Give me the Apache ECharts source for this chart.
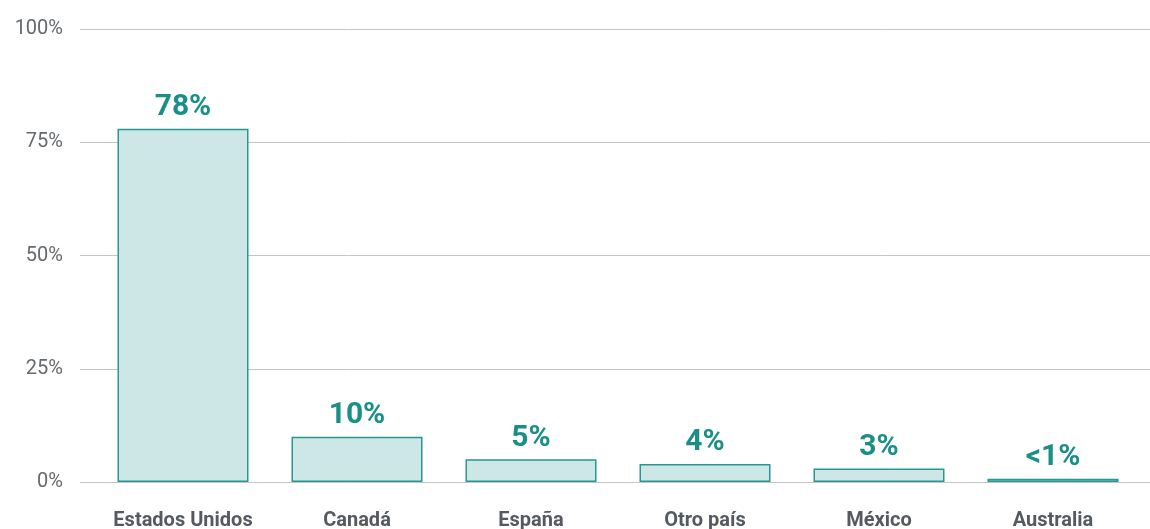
<!DOCTYPE html>
<html>
<head>
<meta charset="utf-8">
<script src="https://cdn.jsdelivr.net/npm/echarts@6/dist/echarts.min.js"></script>
<style>
  html, body { margin: 0; padding: 0; background: #ffffff; }
  #chart { width: 1150px; height: 529px; }
</style>
</head>
<body>
<div id="chart"></div>
<script>
// Country share of respondents
const categories = ['Estados Unidos', 'Canadá', 'España', 'Otro país', 'México', 'Australia'];
const values = [78, 10, 5, 4, 3, 0.7];
const valueLabels = ['78%', '10%', '5%', '4%', '3%', '<1%'];
const yTicks = [0, 25, 50, 75, 100];

const TEAL = '#1a8f88';
const FONT = 'Roboto, "Noto Sans", sans-serif';

const chart = echarts.init(document.getElementById('chart'), null, { renderer: 'canvas' });

const gridTop = 29;
const gridBottom = 47;

chart.setOption({
  animation: false,
  backgroundColor: '#ffffff',
  grid: [
    // wide grid: y axis labels and horizontal gridlines
    { left: 80, right: 0, top: gridTop, bottom: gridBottom, outerBoundsMode: 'none', containLabel: false },
    // inner grid: the bars and category labels
    { left: 96, right: 10, top: gridTop, bottom: gridBottom, outerBoundsMode: 'none', containLabel: false }
  ],
  xAxis: [
    { gridIndex: 0, type: 'category', data: categories, show: false },
    {
      gridIndex: 1,
      type: 'category',
      data: categories,
      axisLine: { show: false },
      axisTick: { show: false },
      axisLabel: {
        interval: 0,
        color: '#555a60',
        fontFamily: FONT,
        fontWeight: 'bold',
        fontSize: 20,
        margin: 29
      }
    }
  ],
  yAxis: [
    {
      gridIndex: 0,
      type: 'value',
      min: yTicks[0],
      max: yTicks[yTicks.length - 1],
      interval: 25,
      axisLine: { show: false },
      axisTick: { show: false },
      splitLine: { lineStyle: { color: '#c4c4c4', width: 1 } },
      axisLabel: {
        color: '#666a6e',
        fontFamily: FONT,
        fontSize: 20,
        margin: 17,
        formatter: v => v + '%'
      }
    },
    {
      gridIndex: 1,
      type: 'value',
      min: yTicks[0],
      max: yTicks[yTicks.length - 1],
      interval: 25,
      show: false
    }
  ],
  series: [
    {
      type: 'bar',
      xAxisIndex: 1,
      yAxisIndex: 1,
      data: values,
      barWidth: 131,
      itemStyle: {
        color: '#cde6e6',
        borderColor: '#259891',
        borderWidth: 1.5
      },
      label: {
        show: true,
        position: 'top',
        distance: 6,
        color: TEAL,
        fontFamily: FONT,
        fontWeight: 'bold',
        fontSize: 30,
        formatter: p => valueLabels[p.dataIndex]
      }
    }
  ]
});
</script>
</body>
</html>
